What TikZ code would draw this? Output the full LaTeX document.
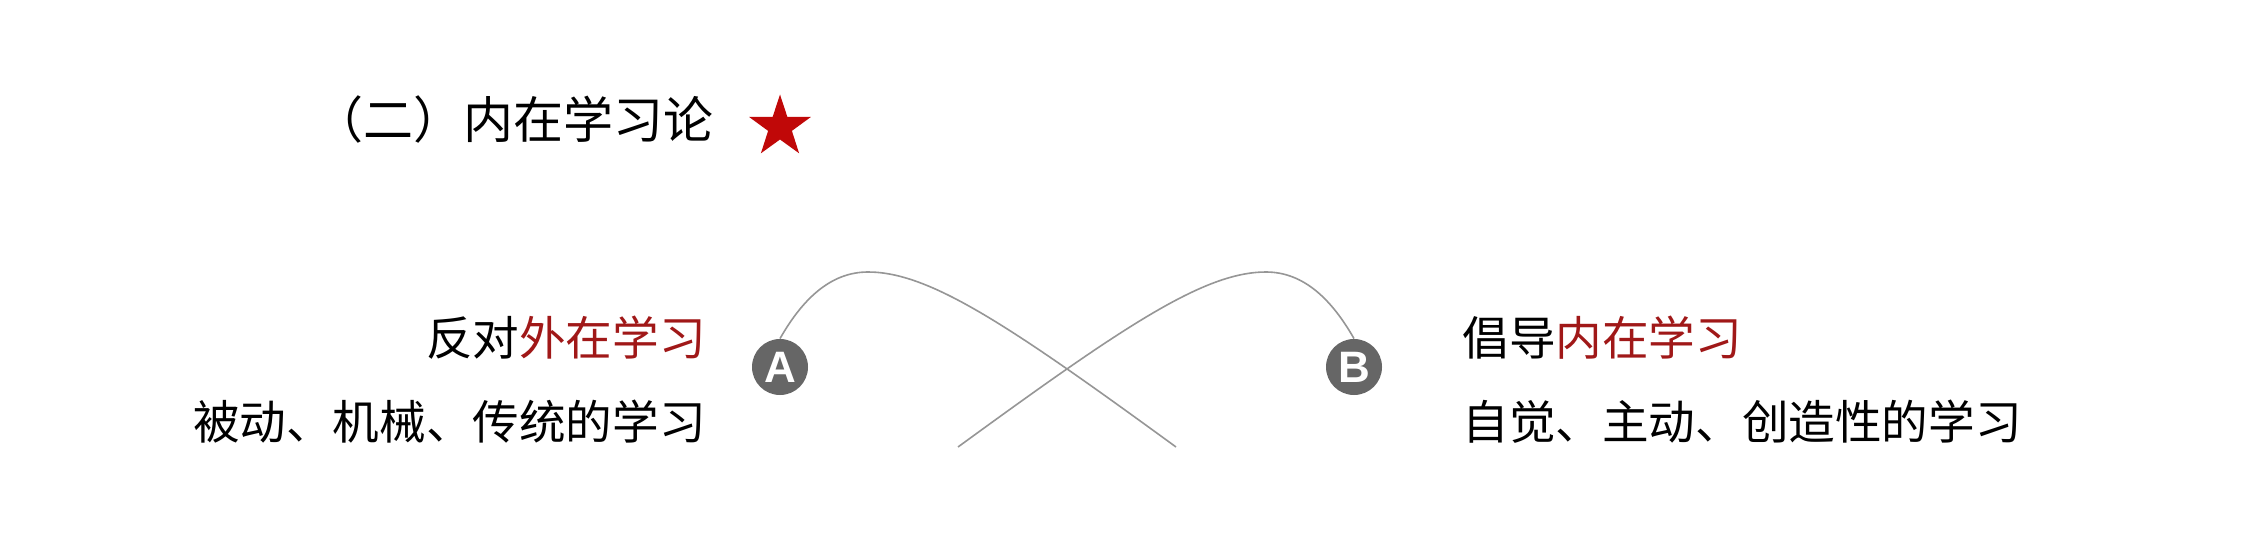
\documentclass[tikz,border=0pt]{standalone}
\usepackage{fontspec}
\setmainfont{Noto Sans CJK SC}
\newfontfamily\badgefont{Liberation Sans}
\usepackage{xcolor}
\usetikzlibrary{shapes.geometric}
\definecolor{inred}{RGB}{160,24,24}
\definecolor{starred}{RGB}{192,8,8}
\definecolor{badgegray}{RGB}{102,102,102}
\definecolor{linegray}{RGB}{150,150,150}

\begin{document}
\begin{tikzpicture}[x=0.5pt, y=-0.5pt, every node/.style={font=\fontsize{23.3pt}{28pt}\selectfont, inner sep=0pt}]
    \tikzset{badge/.style={circle, fill=badgegray, minimum size=28pt, text=white, font=\badgefont\bfseries\fontsize{22pt}{26pt}\selectfont}}
    \tikzset{arc/.style={draw=linegray, line width=0.8pt}}

    \useasboundingbox[fill=white] (0,0) rectangle (2244,556);

    \node[anchor=east, font=\fontsize{25pt}{30pt}\selectfont] (title) at (714,120) {（二）内在学习论};
    \node[star, star points=5, star point ratio=2.6, fill=starred, minimum size=32.5pt] (mark) at (780,127) {};

    \node[badge] (A) at (780,367) {A};
    \node[badge] (B) at (1354,367) {B};

    \node[anchor=east] (oppose) at (706,338) {反对\textcolor{inred}{外在学习}};
    \node[anchor=east] (passive) at (706,422) {被动、机械、传统的学习};
    \node[anchor=west] (advocate) at (1462,338) {倡导\textcolor{inred}{内在学习}};
    \node[anchor=west] (active) at (1462,422) {自觉、主动、创造性的学习};

    \coordinate (endA) at (1176,447);
    \coordinate (endB) at (958,447);
    \coordinate (topA) at (868,272);
    \coordinate (topB) at (1266,272);

    \draw[arc] (A.north) .. controls (802,300) and (830,272) .. (topA)
        .. controls (930,272) and (1010,326) .. (endA);
    \draw[arc] (B.north) .. controls (1332,300) and (1304,272) .. (topB)
        .. controls (1204,272) and (1124,326) .. (endB);
\end{tikzpicture}
\end{document}
